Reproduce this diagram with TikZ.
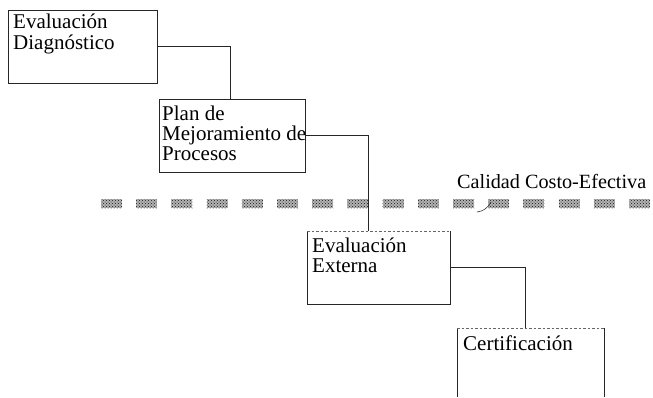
\documentclass[tikz,border=0pt]{standalone}
\usepackage{fontspec}
\setmainfont{Liberation Serif}
\usetikzlibrary{patterns}
\begin{document}
\begin{tikzpicture}[x=1pt,y=-1pt,
  boxshape/.style={rectangle,inner sep=0pt,outer sep=0pt,anchor=north west},
  edge/.style={draw=black!85,line width=0.8pt},
  faint/.style={draw=black!60,line width=0.7pt,dash pattern=on 2.5pt off 2pt},
  txt/.style={inner sep=0pt,anchor=base west,font=\fontsize{21}{20}\selectfont},
  hatchbase/.style={fill=black!30,draw=none},
  hatch/.style={pattern=crosshatch dots,pattern color=black!90,draw=none}]
\useasboundingbox (0,0) rectangle (653,397);
% boxes
\node[boxshape,edge,minimum width=149pt,minimum height=73pt] (ed) at (8,10) {};
\node[boxshape,edge,minimum width=146pt,minimum height=73pt] (plan) at (159,99) {};
\node[boxshape,minimum width=143pt,minimum height=73pt] (ext) at (307,231) {};
\node[boxshape,minimum width=147pt,minimum height=69pt] (cert) at (457,328) {};
\draw[edge] (ext.north west) -- (ext.south west) -- (ext.south east) -- (ext.north east);
\draw[faint] (ext.north west) -- (ext.north east);
\draw[edge] (cert.south west) -- (cert.north west);
\draw[edge] (cert.north east) -- (cert.south east);
\draw[faint] (cert.north west) -- (cert.north east);
% texts
\node[txt] (ed1) at (13,28) {Evaluación};
\node[txt] (ed2) at (13,49) {Diagnóstico};
\node[txt] (pl1) at (162,120) {Plan de};
\node[txt] (pl2) at (162,140) {Mejoramiento de};
\node[txt] (pl3) at (162,160) {Procesos};
\node[txt] (ex1) at (312,252) {Evaluación};
\node[txt] (ex2) at (312,272) {Externa};
\node[txt] (ce1) at (463,350) {Certificación};
\node[txt,font=\fontsize{20.2}{20}\selectfont] (cce) at (457,188) {Calidad Costo-Efectiva};
% quality line
\foreach \i in {0,...,15}{
  \fill[hatchbase] (101+35.2*\i,199) rectangle (122+35.2*\i,208);
  \fill[hatch] (101+35.2*\i,199) rectangle (122+35.2*\i,208);
}
% connectors
\draw[edge] (ed.east) -| ([xshift=-2pt]plan.north);
\draw[edge] (plan.east) -| ([xshift=-10.5pt]ext.north);
\draw[edge] (ext.east) -| ([xshift=-5.5pt]cert.north);
\coordinate (tickA) at (477,212);
\coordinate (tickB) at (491,202);
\draw[draw=black!80,line width=0.6pt] (tickA) .. controls (483,211) and (487,209) .. (tickB);
\end{tikzpicture}
\end{document}
